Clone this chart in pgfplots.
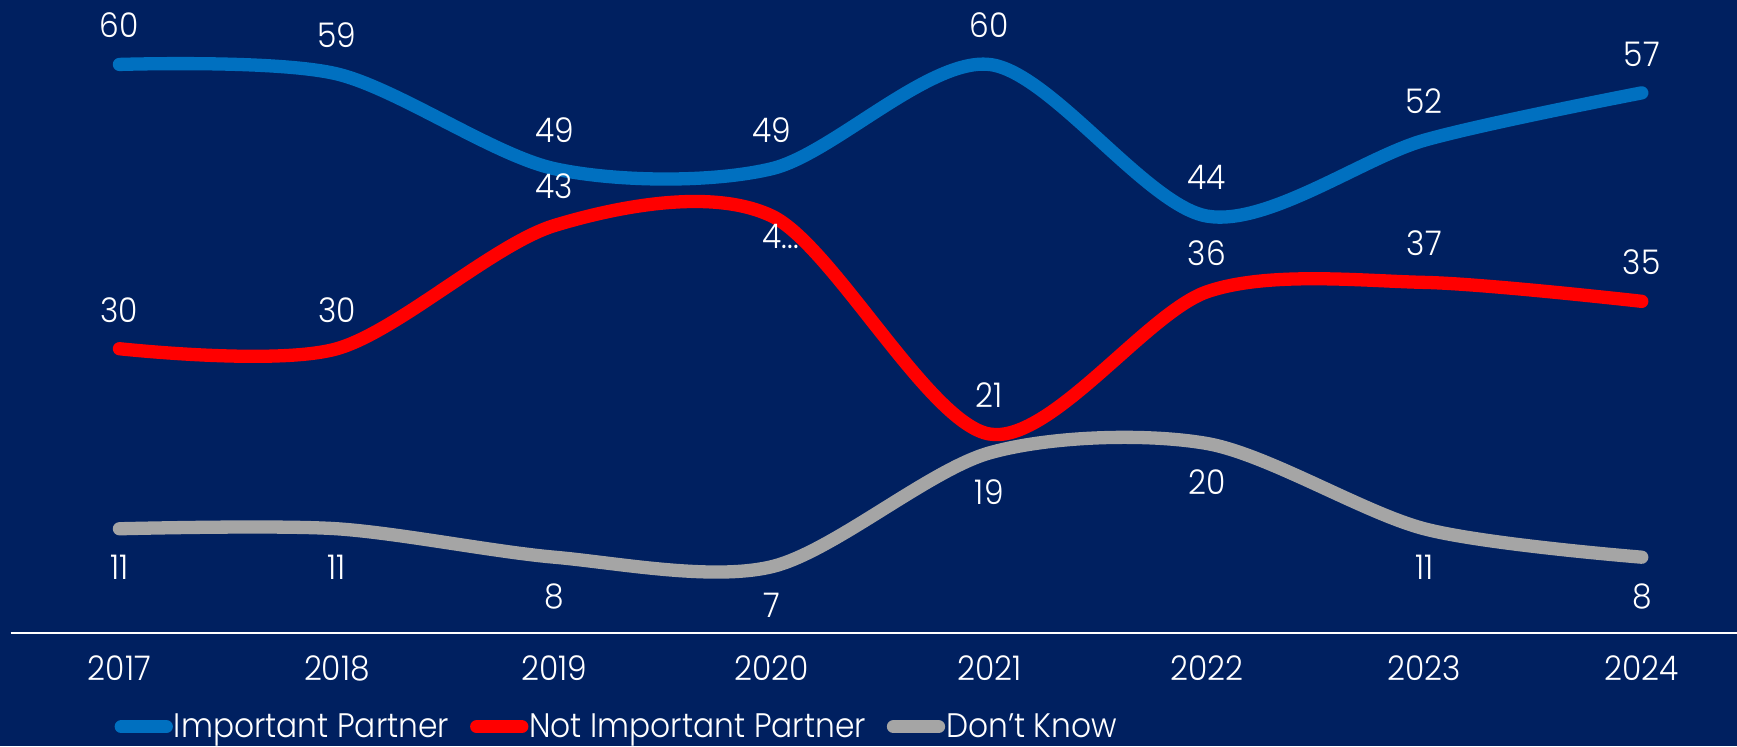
\documentclass[border=0pt]{standalone}
\usepackage{fontspec}
\setmainfont{Poppins}[UprightFont=* Light, FakeStretch=0.92]
\usepackage{pgfplots}
\usepackage{pgfplotstable}
\pgfplotsset{compat=1.18}
\definecolor{bg}{HTML}{002060}
\definecolor{cblue}{HTML}{0070C0}
\definecolor{cred}{HTML}{FF0000}
\definecolor{cgrey}{HTML}{A5A5A5}
\newcommand\fs{\fontsize{17}{20}\selectfont}

\pgfplotstableread{
x y lab dy dx
0 60 60 19.5 0
1 59 59 19.5 0
2 49 49 19.5 0
3 49 49 19.5 0
4 60 60 19.5 0
5 44 44 19.5 0
6 52 52 19.5 0
7 57 57 19.5 0
}\important
\pgfplotstableread{
x y lab dy dx
0 30 30 19.5 0
1 30 30 19.5 0
2 43 43 19.5 0
3 44 4... -10 4.5
4 21 21 19.5 0
5 36 36 19.5 0
6 37 37 19.5 0
7 35 35 19.5 0
}\notimportant
\pgfplotstableread{
x y lab dy dx
0 11 11 -19.5 0
1 11 11 -19.5 0
2 8 8 -19.5 0
3 7 7 -19.5 0
4 19 19 -19.5 0
5 20 20 -19.5 0
6 11 11 -19.5 0
7 8 8 -19.5 0
}\dontknow

\begin{document}
\begin{tikzpicture}
\useasboundingbox (0,0) rectangle (868.5pt,373pt);
\fill[bg] (0,0) rectangle (868.5pt,373pt);
\clip (0,0) rectangle (868.5pt,373pt);
\begin{axis}[
  at={(5.35pt,56.5pt)}, anchor=south west,
  scale only axis, width=869.9pt, height=316.5pt,
  xmin=-0.5, xmax=7.5, ymin=0, ymax=66.8,
  hide y axis,
  axis x line*=bottom,
  x axis line style={white, line width=0.8pt, -},
  xtick={0,...,7},
  xticklabels={2017,2018,2019,2020,2021,2022,2023,2024},
  major tick length=0pt,
  /pgf/number format/assume math mode=true,
  xticklabel style={font=\fs, text=white, yshift=-8pt},
  clip=false,
  legend columns=-1,
  legend style={at={(0.0595,-0.148)}, anchor=west, draw=none, fill=none,
    text=white, font=\fs, inner sep=0pt,
    /tikz/every odd column/.append style={column sep=-1.5pt},
    /tikz/every even column/.append style={column sep=8.5pt}},
  legend image code/.code={\draw[#1, line width=6.65pt, line cap=round] (3.3pt,0pt) -- (25.8pt,0pt);},
  every axis plot/.append style={line width=6.65pt, line cap=round, line join=round, smooth},
  point meta=explicit symbolic,
  nodes near coords,
  visualization depends on={\thisrow{dy} \as \dy},
  visualization depends on={\thisrow{dx} \as \dx},
  every node near coord/.append style={font=\fs, text=white, anchor=center, yshift=\dy pt, xshift=\dx pt},
]
\addplot[cblue] table[x=x, y=y, meta=lab] {\important};
\addlegendentry{Important Partner}
\addplot[cred] table[x=x, y=y, meta=lab] {\notimportant};
\addlegendentry{Not Important Partner}
\addplot[cgrey] table[x=x, y=y, meta=lab] {\dontknow};
\addlegendentry{Don't Know}
\end{axis}
\end{tikzpicture}
\end{document}
